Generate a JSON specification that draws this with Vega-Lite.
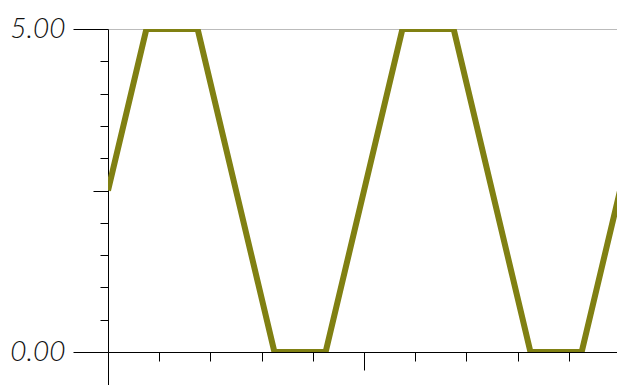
{
  "$schema": "https://vega.github.io/schema/vega-lite/v6.json",
  "autosize": {"type": "none"},
  "width": 509,
  "height": 323,
  "padding": {"left": 108, "top": 29, "right": 0, "bottom": 33},
  "background": "white",
  "config": {"view": {"stroke": null}},
  "data": {
    "values": [
      {"t": 0, "v": 2.5},
      {"t": 0.75, "v": 5},
      {"t": 1.75, "v": 5},
      {"t": 3.25, "v": 0},
      {"t": 4.25, "v": 0},
      {"t": 5.75, "v": 5},
      {"t": 6.75, "v": 5},
      {"t": 8.25, "v": 0},
      {"t": 9.25, "v": 0},
      {"t": 10, "v": 2.5}
    ]
  },
  "mark": {"type": "line", "color": "#808012", "strokeWidth": 6, "clip": true, "strokeJoin": "miter"},
  "encoding": {
    "x": {
      "field": "t",
      "type": "quantitative",
      "scale": {"domain": [0, 9.94], "nice": false, "zero": false},
      "axis": {
        "title": null,
        "labels": false,
        "grid": false,
        "values": [0, 1, 2, 3, 4, 5, 6, 7, 8, 9],
        "domainColor": "#000000",
        "domainWidth": 1,
        "tickColor": "#000000",
        "tickWidth": 1,
        "tickSize": {"condition": [{"test": "datum.value == 0", "value": 40}, {"test": "datum.value == 5", "value": 18}], "value": 9}
      }
    },
    "y": {
      "field": "v",
      "type": "quantitative",
      "scale": {"domain": [0, 5], "nice": false},
      "axis": {
        "title": null,
        "values": [0, 0.5, 1, 1.5, 2, 2.5, 3, 3.5, 4, 4.5, 5],
        "labelExpr": "datum.value == 0 || datum.value == 5 ? format(datum.value, '.2f') : ''",
        "labelFont": "Lato",
        "labelFontWeight": 300,
        "labelFontStyle": "italic",
        "labelFontSize": 28,
        "labelColor": "#111111",
        "labelPadding": 8,
        "labelBaseline": "middle",
        "labelFlush": false,
        "labelOverlap": false,
        "domainColor": "#000000",
        "domainWidth": 1,
        "tickColor": "#000000",
        "tickWidth": 1,
        "tickSize": {"condition": [{"test": "datum.value == 0 || datum.value == 5", "value": 35}, {"test": "datum.value == 2.5", "value": 15}], "value": 8},
        "grid": true,
        "gridColor": "#bbbbbb",
        "gridOpacity": {"condition": {"test": "datum.value == 5", "value": 1}, "value": 0}
      }
    }
  }
}
